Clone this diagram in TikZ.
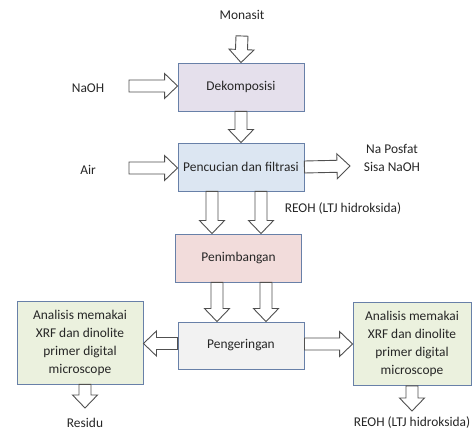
\documentclass[tikz,border=0pt]{standalone}
\usepackage{fontspec}
\setmainfont{Carlito}
\usepackage{tikz}
\usetikzlibrary{calc, positioning}
\usepackage{xcolor}
\definecolor{boxline}{RGB}{104,128,168}
\definecolor{arrline}{RGB}{80,80,80}
\definecolor{txt}{RGB}{38,38,38}
\definecolor{fdek}{RGB}{229,224,236}
\definecolor{fcuci}{RGB}{220,230,242}
\definecolor{ftimb}{RGB}{242,220,219}
\definecolor{fkering}{RGB}{242,242,242}
\definecolor{fanal}{RGB}{235,241,222}
\newcommand{\fs}{\fontsize{13.4}{18}\selectfont}
\tikzset{
  proc/.style   ={draw=boxline, line width=0.9pt, minimum width=126pt, minimum height=48pt, inner sep=0pt, align=center, font=\fs, text=txt},
  anal/.style   ={proc, fill=fanal, minimum height=83pt},
  lbl/.style    ={font=\fs, text=txt, inner sep=0pt, align=center},
  blk/.style    ={draw=arrline, fill=white, line width=0.9pt, line join=miter,  % hollow block arrow
    to path={
      ($(\tikztotarget)!13pt!(\tikztostart)$) coordinate (bh)
      ($(\tikztostart)!6pt!90:(\tikztotarget)$) -- ($(bh)!6pt!90:(\tikztotarget)$)
      -- ($(bh)!12.5pt!90:(\tikztotarget)$) -- (\tikztotarget)
      -- ($(bh)!12.5pt!-90:(\tikztotarget)$) -- ($(bh)!6pt!-90:(\tikztotarget)$)
      -- ($(\tikztostart)!6pt!-90:(\tikztotarget)$) -- cycle}},
}

\begin{document}
\begin{tikzpicture}[x=1pt, y=-1pt]
  \useasboundingbox (0,0) rectangle (472,430);

  % main column
  \node[proc, fill=fdek]    (dek)  at (241,87)    {Dekomposisi};
  \node[proc, fill=fcuci]   (cuci) at (241,167)   {Pencucian dan filtrasi};
  \node[proc, fill=ftimb]   (timb) at (238.5,258) {Penimbangan};
  \node[proc, fill=fkering, minimum height=47pt] (kering) at (241,345.5) {Pengeringan};

  % side boxes
  \node[anal, minimum width=126pt] (anakiri)  at (80,342.5) {Analisis memakai\\XRF dan dinolite\\primer digital\\microscope};
  \node[anal, minimum width=118pt] (anakanan) at (412,344)  {Analisis memakai\\XRF dan dinolite\\primer digital\\microscope};

  % inputs / outputs
  \node[lbl] (monasit) at (242,15)  {Monasit};
  \node[lbl] (naoh)    at (88,88)   {NaOH};
  \node[lbl] (air)     at (88,170)  {Air};
  \node[lbl] (posfat)  at (392,158) {Na Posfat\\Sisa NaOH};
  \node[lbl] (reoh)    at (343,209) {REOH (LTJ hidroksida)};
  \node[lbl] (residu)  at (85,423)  {Residu};
  \node[lbl] (reohb)   at (412,423) {REOH (LTJ hidroksida)};

  \coordinate (monin)  at (242,36);
  \coordinate (naohin) at (129,86);
  \coordinate (airin)  at (129,168);
  \coordinate (posout) at (350,166);
  \coordinate (resout) at (85,408);
  \coordinate (reout)  at (412,411);

  \draw[blk] (monin) to (dek.north);
  \draw[blk] (naohin) to (naohin -| dek.west);
  \draw[blk] (dek.south) to (cuci.north);
  \draw[blk] (airin) to (airin -| cuci.west);
  \draw[blk] (cuci.east) to (posout);
  \draw[blk] ([xshift=-29pt]cuci.south) to ([xshift=-26.5pt]timb.north);
  \draw[blk] ([xshift=20pt]cuci.south) to ([xshift=22.5pt]timb.north);
  \draw[blk] ([xshift=-21.5pt]timb.south) to ([xshift=-24pt]kering.north);
  \draw[blk] ([xshift=27.5pt]timb.south) to ([xshift=25pt]kering.north);
  \draw[blk] ([yshift=2pt]kering.west) to ([yshift=2pt]kering.west -| anakiri.east);
  \draw[blk] ([yshift=1.5pt]kering.east) to ([yshift=1.5pt]kering.east -| anakanan.west);
  \draw[blk] (anakiri.south -| resout) to (resout);
  \draw[blk] (anakanan.south) to (reout);
\end{tikzpicture}
\end{document}
